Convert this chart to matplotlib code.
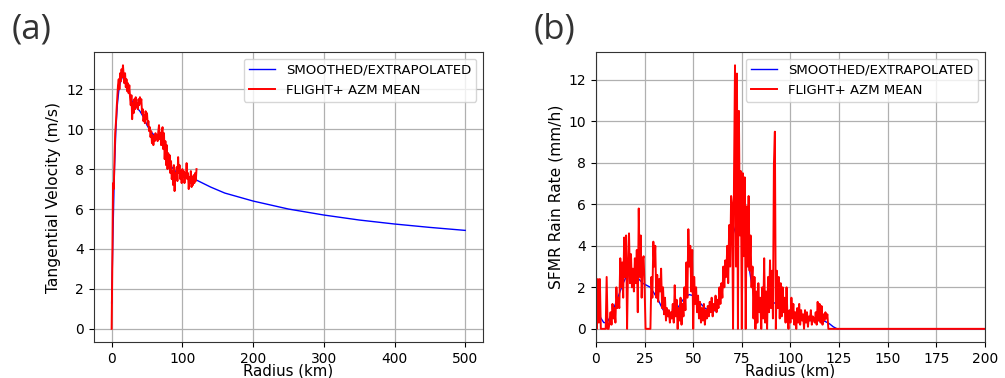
import numpy as np
import matplotlib
matplotlib.use('Agg')
import matplotlib.pyplot as plt

# panel (a): tangential velocity
vt_smooth_r = [0, 2, 4, 6, 8, 10, 12, 15, 18, 20, 25, 30, 35, 40, 45, 50, 55, 60, 65, 70,
               75, 80, 85, 90, 95, 100, 110, 120, 140, 160, 180, 200, 250, 300, 350, 400, 450, 500]
vt_smooth = [1.3, 5.0, 8.0, 10.0, 11.2, 11.9, 12.3, 12.6, 12.6, 12.4, 11.8, 11.3, 11.1, 10.9, 10.6,
             10.2, 9.9, 9.7, 9.65, 9.5, 9.0, 8.5, 8.1, 7.9, 7.8, 7.75, 7.6, 7.45, 7.1, 6.8, 6.6,
             6.4, 6.0, 5.7, 5.45, 5.25, 5.08, 4.93]

vt_flight_r = np.arange(0, 121)
vt_flight = [0.0, 3.5, 7.3, 7.0, 8.5, 9.8, 10.3, 11.0, 11.6, 12.2,
             12.5, 12.0, 12.8, 12.4, 13.0, 12.6, 13.2, 12.7, 12.3, 12.8,
             12.1, 12.5, 11.9, 12.3, 11.8, 12.2, 11.6, 11.2, 11.7, 10.5,
             11.3, 10.8, 11.5, 11.0, 11.6, 11.1, 11.3, 11.0, 11.5, 11.2,
             11.6, 11.3, 11.5, 10.8, 11.0, 10.4, 10.7, 10.3, 10.9, 10.5,
             10.8, 10.2, 10.4, 9.9, 10.1, 9.6, 9.9, 9.3, 9.7, 9.2,
             9.6, 9.4, 9.8, 9.5, 9.7, 9.4, 9.9, 10.2, 9.5, 9.8,
             9.2, 9.9, 10.1, 9.0, 9.8, 8.5, 9.4, 8.2, 9.2, 8.0,
             8.8, 8.3, 8.7, 7.8, 8.4, 7.5, 7.9, 7.2, 8.2, 6.9,
             7.8, 7.5, 8.1, 7.4, 8.6, 7.8, 8.2, 7.5, 7.9, 7.3,
             8.0, 7.6, 7.9, 7.3, 7.8, 7.6, 8.3, 7.5, 7.8, 7.0,
             7.6, 7.3, 7.9, 7.1, 7.6, 7.2, 7.7, 7.3, 7.8, 7.4,
             8.0]

# panel (b): SFMR rain rate
rr_smooth_r = [0, 2, 4, 5, 6, 8, 10, 12, 14, 16, 18, 20, 22, 24, 26, 28, 30, 32, 34, 36, 38,
               40, 42, 44, 46, 48, 50, 52, 54, 56, 58, 60, 62, 64, 66, 68, 70, 72, 74, 76, 78,
               80, 82, 84, 86, 88, 90, 92, 94, 96, 98, 100, 102, 104, 106, 108, 110, 112, 114,
               116, 118, 120, 122, 124, 200]
rr_smooth = [1.3, 0.6, 0.3, 0.3, 0.35, 0.7, 1.2, 1.7, 2.2, 2.6, 2.9, 2.8, 2.4, 2.2, 2.1, 2.0,
             1.7, 1.4, 1.0, 0.7, 0.55, 0.65, 1.0, 1.3, 1.55, 1.65, 1.6, 1.4, 1.2, 1.0, 0.9,
             0.85, 0.9, 1.4, 2.4, 3.5, 4.4, 5.0, 5.2, 4.6, 3.4, 2.2, 1.5, 1.1, 1.0, 1.1, 1.2,
             1.25, 1.2, 1.0, 0.85, 0.7, 0.6, 0.5, 0.45, 0.4, 0.4, 0.4, 0.4, 0.4, 0.35, 0.25,
             0.1, 0.0, 0.0]

rr_flight_r = list(np.arange(0, 120.5, 0.5)) + [200]
rr_flight = [1.8, 0.0, 2.4, 0.3, 2.4, 0.0, 0.0, 0.0, 0.0, 0.0,
             0.0, 2.5, 0.0, 0.0, 0.3, 0.8, 0.2, 1.2, 0.5, 1.0,
             0.3, 2.0, 1.0, 1.5, 1.0, 3.4, 2.0, 3.2, 1.5, 4.4,
             2.5, 4.5, 0.0, 3.0, 4.6, 2.2, 3.6, 2.0, 2.9, 1.8,
             3.4, 2.2, 3.8, 0.8, 5.8, 2.5, 4.5, 1.5, 3.3, 3.5,
             2.0, 0.0, 0.0, 0.0, 0.0, 0.0, 0.0, 2.5, 1.5, 4.2,
             3.0, 4.0, 1.5, 2.6, 1.3, 2.4, 1.8, 2.9, 1.0, 2.0,
             0.7, 1.5, 0.4, 1.0, 0.6, 0.9, 0.3, 0.8, 0.5, 1.2,
             0.3, 2.1, 0.6, 1.4, 0.0, 1.0, 0.4, 1.5, 0.2, 1.2,
             0.6, 2.0, 0.9, 3.2, 1.5, 4.8, 3.0, 4.0, 1.8, 3.8,
             0.0, 2.5, 1.2, 2.0, 0.8, 1.6, 0.5, 1.3, 0.3, 1.0,
             0.4, 1.2, 0.2, 0.9, 0.5, 1.1, 0.6, 1.3, 0.8, 1.5,
             0.6, 1.2, 0.9, 1.6, 0.8, 1.4, 1.0, 2.0, 1.2, 2.2,
             1.5, 3.0, 2.0, 3.3, 2.5, 4.0, 2.2, 5.0, 3.0, 6.4,
             6.0, 0.0, 7.5, 12.7, 3.0, 12.3, 0.0, 10.5, 4.5, 7.6,
             0.0, 7.5, 3.5, 7.3, 0.0, 5.9, 3.0, 6.4, 2.8, 4.5,
             2.0, 3.0, 0.5, 2.5, 0.0, 1.8, 0.3, 2.2, 0.8, 1.5,
             0.0, 2.0, 0.5, 3.4, 0.3, 1.8, 0.0, 2.5, 0.8, 3.3,
             1.0, 2.8, 0.5, 7.9, 9.5, 0.0, 2.8, 1.0, 2.5, 0.5,
             2.2, 0.6, 2.0, 0.8, 1.5, 0.3, 2.0, 0.5, 0.0, 0.9,
             0.3, 1.5, 0.5, 1.2, 0.2, 0.8, 0.0, 1.0, 0.3, 1.2,
             0.2, 0.9, 0.4, 0.7, 0.0, 0.9, 0.3, 0.8, 0.1, 0.6,
             0.4, 0.9, 0.2, 0.6, 0.5, 0.3, 0.8, 0.2, 1.3, 0.4,
             1.2, 0.3, 1.1, 0.2, 0.7, 0.4, 0.8, 0.5, 0.7, 0.0,
             0.0, 0.0]

fig = plt.figure(figsize=(10.05, 3.78), dpi=100)
ax1 = fig.add_axes([0.0935, 0.0952, 0.387, 0.767])
ax2 = fig.add_axes([0.593, 0.0952, 0.387, 0.767])

ax1.plot(vt_smooth_r, vt_smooth, color='blue', lw=1.0, label='SMOOTHED/EXTRAPOLATED')
ax1.plot(vt_flight_r, vt_flight, color='red', lw=1.4, label='FLIGHT+ AZM MEAN')
ax1.set_xlabel('Radius (km)', fontsize=10.8, labelpad=-1.5)
ax1.set_ylabel('Tangential Velocity (m/s)', fontsize=11.2)

ax2.plot(rr_smooth_r, rr_smooth, color='blue', lw=1.0, label='SMOOTHED/EXTRAPOLATED')
ax2.plot(rr_flight_r, rr_flight, color='red', lw=1.4, label='FLIGHT+ AZM MEAN')
ax2.set_xlim(0, 200)
ax2.set_xlabel('Radius (km)', fontsize=10.8, labelpad=-1.5)
ax2.set_ylabel('SFMR Rain Rate (mm/h)', fontsize=11.2)

for ax in (ax1, ax2):
    ax.grid(True, color='#b0b0b0', lw=0.9)
    ax.tick_params(labelsize=10)
    for s in ax.spines.values():
        s.set_color('#333333')
    ax.legend(loc='upper right', fontsize=9.5)

fig.text(0.012, 0.968, '(a)', fontsize=25, family='Open Sans', color='#333333', va='top')
fig.text(0.531, 0.968, '(b)', fontsize=25, family='Open Sans', color='#333333', va='top')

fig.savefig('out.png', dpi=100)
